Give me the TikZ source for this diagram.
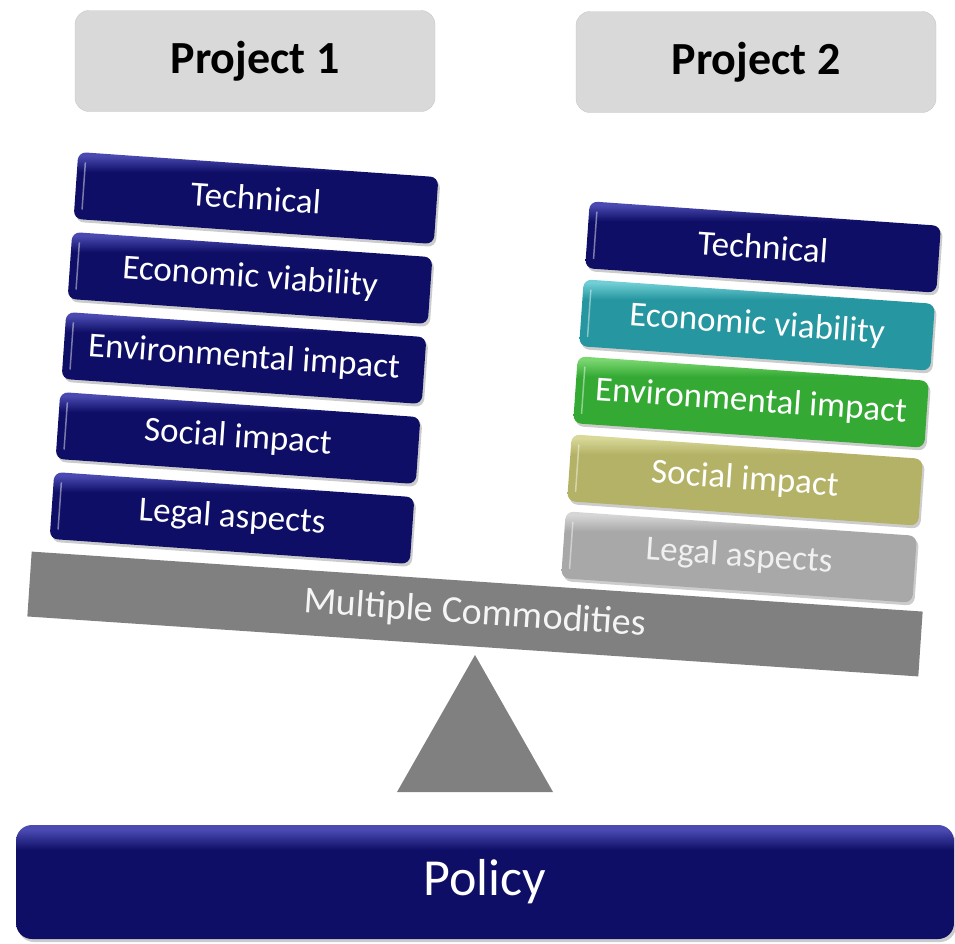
\documentclass[tikz,border=0pt]{standalone}
\usepackage{fontspec}
\setmainfont{Carlito}
\usetikzlibrary{shadows,calc}

\definecolor{navyB}{RGB}{14,14,102}
\definecolor{navyT}{RGB}{74,74,178}
\definecolor{tealB}{RGB}{38,150,160}
\definecolor{tealT}{RGB}{112,206,212}
\definecolor{greenB}{RGB}{52,170,52}
\definecolor{greenT}{RGB}{122,214,112}
\definecolor{oliveB}{RGB}{180,178,102}
\definecolor{oliveT}{RGB}{216,216,152}
\definecolor{greyB}{RGB}{168,168,168}
\definecolor{greyT}{RGB}{214,214,214}
\definecolor{projfill}{RGB}{217,217,217}
\definecolor{beamgrey}{RGB}{128,128,128}

\pgfdeclareverticalshading{navyshade}{100bp}{color(0bp)=(navyB); color(25bp)=(navyB); color(64bp)=(navyB); color(73bp)=(navyT); color(100bp)=(navyT)}
\pgfdeclareverticalshading{tealshade}{100bp}{color(0bp)=(tealB); color(25bp)=(tealB); color(64bp)=(tealB); color(73bp)=(tealT); color(100bp)=(tealT)}
\pgfdeclareverticalshading{greenshade}{100bp}{color(0bp)=(greenB); color(25bp)=(greenB); color(64bp)=(greenB); color(73bp)=(greenT); color(100bp)=(greenT)}
\pgfdeclareverticalshading{oliveshade}{100bp}{color(0bp)=(oliveB); color(25bp)=(oliveB); color(64bp)=(oliveB); color(73bp)=(oliveT); color(100bp)=(oliveT)}
\pgfdeclareverticalshading{greyshade}{100bp}{color(0bp)=(greyB); color(25bp)=(greyB); color(64bp)=(greyB); color(73bp)=(greyT); color(100bp)=(greyT)}

\tikzset{
  crit/.style={rounded corners=8pt, minimum height=67pt, rotate=-4, text=white,
    font=\fontsize{35}{37}\selectfont, shading=#1,
    drop shadow={shadow xshift=2pt, shadow yshift=-3pt, opacity=.4}},
  critL/.style={crit=#1, minimum width=361pt},
  critR/.style={crit=#1, minimum width=352pt},
  projbox/.style={rounded corners=14pt, fill=projfill, draw=black!22, minimum width=360pt,
    minimum height=101pt, font=\bfseries\fontsize{46}{48}\selectfont},
  hilite/.style={white, opacity=.45, line width=1.5pt}
}

\begin{document}
\begin{tikzpicture}[x=1pt,y=1pt]
                \useasboundingbox (0,0) rectangle (955,-943);
                \node[projbox] (proj1) at (255,-61) {Project 1};
                \node[projbox] (proj2) at (756,-62) {Project 2};
                \node[critL=navyshade] (tech1) at (256,-198) {Technical};
                \node[critL=navyshade] (econ1) at (250,-278) {Economic viability};
                \node[critL=navyshade] (env1) at (244,-358) {Environmental impact};
                \node[critL=navyshade] (soc1) at (238,-438) {Social impact};
                \node[critL=navyshade] (legal1) at (232,-518) {Legal aspects};
                \node[critR=navyshade] (tech2) at (763,-247) {Technical};
                \node[critR=tealshade] (econ2) at (757,-325) {Economic viability};
                \node[critR=greenshade] (env2) at (751,-402) {Environmental impact};
                \node[critR=oliveshade] (soc2) at (745,-480) {Social impact};
                \node[critR=greyshade, text=white!94!black] (legal2) at (739,-557) {Legal aspects};
                \foreach \n in {tech1,econ1,env1,soc1,legal1,tech2,econ2,env2,soc2,legal2}
                  \draw[hilite] ($(\n.north west)!.15!(\n.south west)+(-4:8)$) -- ($(\n.north west)!.85!(\n.south west)+(-4:8)$);
                \node[fill=beamgrey, rotate=-3.85, minimum width=893pt, minimum height=65pt,
                  text=white!96!black, font=\fontsize{38}{40}\selectfont] (beam) at (475,-614) {Multiple Commodities};
                \coordinate (pivot) at (475,-655);
                \fill[beamgrey] (pivot) -- ++(-78,-137) -- ++(156,0) -- cycle;
                \node[rounded corners=16pt, shading=navyshade, minimum width=938pt, minimum height=114pt,
                  text=white, font=\fontsize{52}{54}\selectfont,
                  drop shadow={shadow xshift=2pt, shadow yshift=-3pt, opacity=.4}] (policy) at (485,-882) {Policy};
            \end{tikzpicture}
\end{document}
